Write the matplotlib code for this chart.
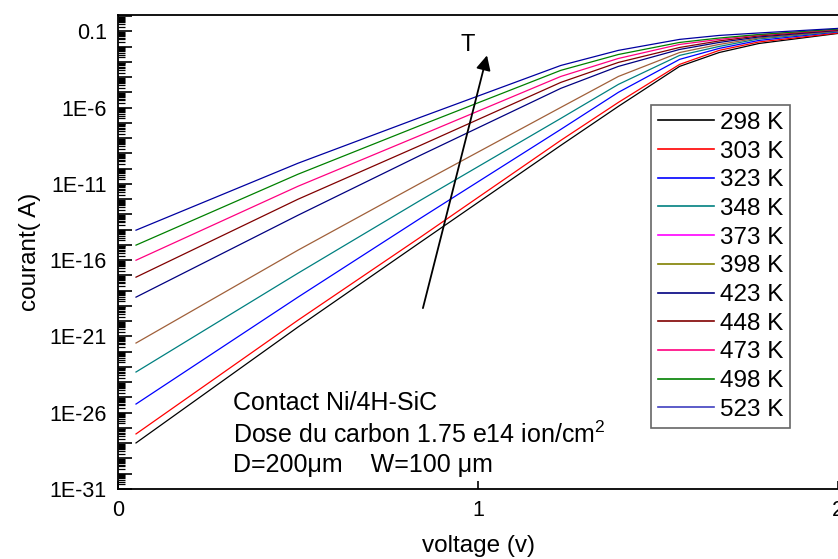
import numpy as np
from matplotlib import pyplot as plt
from matplotlib.lines import Line2D
from matplotlib.ticker import FixedLocator, FuncFormatter, LogLocator, NullFormatter

plt.rcParams["font.family"] = ["Liberation Sans", "DejaVu Sans"]
plt.rcParams["mathtext.fontset"] = "custom"
plt.rcParams["mathtext.rm"] = "Liberation Sans"

voltage = [0.05, 0.5, 0.84, 1.23, 1.39, 1.56, 1.67, 1.78, 2.0]

# log10 of the current (A) for each temperature curve
log_i_298 = [-27.98, -20.38, -14.82, -8.47, -5.91, -3.29, -2.38, -1.79, -1.13]
log_i_303 = [-27.39, -19.93, -14.49, -8.14, -5.65, -3.16, -2.24, -1.69, -1.10]
log_i_323 = [-25.43, -18.42, -13.25, -7.42, -4.99, -2.83, -2.11, -1.59, -1.03]
log_i_348 = [-23.33, -16.85, -12.07, -6.70, -4.47, -2.57, -1.98, -1.49, -1.00]
log_i_398 = [-21.43, -15.34, -10.95, -5.98, -3.95, -2.38, -1.85, -1.43, -0.97]
log_i_423 = [-18.42, -13.05, -9.12, -4.73, -3.29, -2.18, -1.72, -1.36, -0.93]
log_i_448 = [-17.11, -12.00, -8.47, -4.34, -3.03, -2.05, -1.62, -1.29, -0.90]
log_i_473 = [-16.00, -11.15, -7.81, -3.95, -2.77, -1.85, -1.52, -1.23, -0.87]
log_i_498 = [-15.01, -10.36, -7.16, -3.55, -2.51, -1.72, -1.43, -1.20, -0.84]
log_i_523 = [-14.03, -9.64, -6.63, -3.23, -2.24, -1.52, -1.26, -1.10, -0.80]

curves = [log_i_298, log_i_303, log_i_323, log_i_348, log_i_398,
          log_i_423, log_i_448, log_i_473, log_i_498, log_i_523]
curve_colors = ["#000000", "#ff0000", "#0000ff", "#008080", "#a0603a",
                "#000080", "#800000", "#ff0080", "#008000", "#0000a0"]

legend_labels = ["298 K", "303 K", "323 K", "348 K", "373 K", "398 K",
                 "423 K", "448 K", "473 K", "498 K", "523 K"]
legend_colors = ["#000000", "#ff0000", "#0000ff", "#008080", "#ff00ff", "#808000",
                 "#000080", "#800000", "#ff0080", "#008000", "#4040c0"]

fig = plt.figure(figsize=(8.38, 5.59), dpi=100)
ax = fig.add_axes([118 / 838, 1 - 489 / 559, 720 / 838, 474 / 559])

for logs, col in zip(curves, curve_colors):
    ax.plot(voltage, 10.0 ** np.array(logs), color=col, lw=0.9)

ax.set_yscale("log")
ax.set_xlim(0, 2)
ax.set_ylim(1e-31, 1.2)

ax.spines["right"].set_visible(False)
for s in ["left", "bottom", "top"]:
    ax.spines[s].set_linewidth(1.3)

decades = np.arange(-31, 1)
ax.yaxis.set_major_locator(FixedLocator(10.0 ** decades))
ax.yaxis.set_minor_locator(LogLocator(base=10, subs=np.arange(2, 10), numticks=400))
ax.yaxis.set_minor_formatter(NullFormatter())


def fmt_y(v, pos):
    k = int(round(np.log10(v)))
    if (k + 1) % 5 != 0:
        return ""
    if k == -1:
        return "0.1"
    return "1E-%d" % (-k)


ax.yaxis.set_major_formatter(FuncFormatter(fmt_y))
ax.set_xticks([0, 1, 2])
ax.set_xticklabels(["0", "1", "2"])
ax.tick_params(axis="y", which="major", direction="in", length=10, width=1.2,
               labelsize=15.5, pad=8, right=False)
ax.tick_params(axis="y", which="minor", direction="in", length=5, width=0.9,
               right=False)
ax.tick_params(axis="x", which="major", direction="in", length=6, width=1.2,
               labelsize=15.5, pad=8, top=False)

ax.set_xlabel("voltage (v)", fontsize=17.5, labelpad=10)
ax.set_ylabel("courant( A)", fontsize=17.5, labelpad=6)

# temperature arrow
ax.annotate("", xy=(1.025, 10 ** -2.57), xytext=(0.847, 10 ** -19.14),
            arrowprops=dict(arrowstyle="-|>", color="k", lw=1.3,
                            mutation_scale=22, shrinkA=0, shrinkB=0))
ax.text(0.972, 10 ** -1.92, "T", fontsize=17, ha="center", va="center")

ax.text(0.16, 0.181, "Contact Ni/4H-SiC", transform=ax.transAxes,
        fontsize=18, va="center")
ax.text(0.16, 0.114, "Dose du carbon 1.75 e14 ion/cm$^2$", transform=ax.transAxes,
        fontsize=18, va="center")
ax.text(0.16, 0.051, "D=200\u03bcm    W=100 \u03bcm", transform=ax.transAxes,
        fontsize=18, va="center")

handles = [Line2D([], [], color=c, lw=1.2) for c in legend_colors]
leg = fig.legend(handles, legend_labels, loc="upper left",
                 bbox_to_anchor=(651 / 838, 1 - 105 / 559), borderaxespad=0,
                 fontsize=17.5, handlelength=2.3, handletextpad=0.25,
                 labelspacing=0.275, borderpad=0.28, fancybox=False,
                 framealpha=1, edgecolor="#666666")
leg.get_frame().set_linewidth(1.2)

fig.savefig("out.png", dpi=100)
